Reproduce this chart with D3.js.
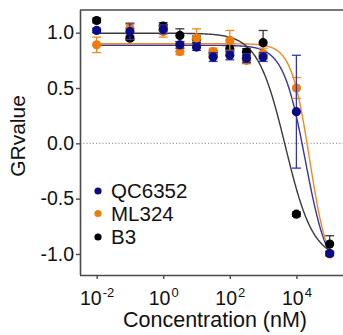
<!DOCTYPE html>
<html>
<head>
<meta charset="utf-8">
<script src="https://cdn.jsdelivr.net/npm/d3@7"></script>
<style>
  html, body { margin: 0; padding: 0; background: #fff; }
  svg { display: block; font-family: "Liberation Sans", Arial, sans-serif; }
</style>
</head>
<body>
<svg id="chart" width="343" height="335"></svg>
<script>
// Concentrations (nM) tested for every compound
const concentrations = [0.01, 0.1, 1, 3.16, 10, 31.6, 100, 316, 1000, 10000, 100000];

// Series names and colours
const seriesNames = ["QC6352", "ML324", "B3"];
const pointColors = ["#0b0b86", "#ee7b0e", "#000000"];
const curveColors = ["#3535a8", "#f08a20", "#3a3a3a"];

// Mean GR values
const qc6352Mean = [1.02, 1.01, 1.03, 0.89, 0.87, 0.78, 0.795, 0.77, 0.78, 0.286, -0.995];
const ml324Mean  = [0.89, 1.04, 1.01, 0.83, 0.95, 0.83, 0.93, 0.75, 0.81, 0.50, -1.0];
const b3Mean     = [1.11, 0.95, 1.06, 0.975, 0.94, 0.81, 0.855, 0.825, 0.91, -0.64, -0.91];

// Error (± SD) of the GR values
const qc6352Err = [0.02, 0.07, 0.04, 0.03, 0.03, 0.04, 0.04, 0.04, 0.04, 0.51, 0.02];
const ml324Err  = [0.07, 0.05, 0.05, 0.03, 0.085, 0.03, 0.09, 0.03, 0.05, 0.095, 0.02];
const b3Err     = [0.02, 0.02, 0.03, 0.06, 0.03, 0.03, 0.03, 0.03, 0.11, 0.02, 0.075];

// Four-parameter logistic fit for each compound
const fitTop      = [0.886, 0.90, 0.995];
const fitBottom   = [-1.2, -1.2, -1.05];
const fitLogEC50  = [4.27, 4.40, 3.67];
const fitHill     = [1.3, 1.56, 1.04];

// Axis ticks
const yTicks = [-1.0, -0.5, 0.0, 0.5, 1.0];
const xTickExponents = [-2, 0, 2, 4];

const means = [qc6352Mean, ml324Mean, b3Mean];
const errs = [qc6352Err, ml324Err, b3Err];

const svg = d3.select("#chart");
const plotLeft = 80, plotRight = 343, plotTop = 10, plotBottom = 275;

const x = d3.scaleLog().domain([Math.pow(10, -2.5), Math.pow(10, 5.4)]).range([plotLeft, plotRight]);
const y = d3.scaleLinear().domain([-1.19, 1.205]).range([plotBottom, plotTop]);

const axisColor = "#4a4a4a";

// Zero reference line
svg.append("line")
  .attr("x1", plotLeft).attr("x2", plotRight)
  .attr("y1", y(0)).attr("y2", y(0))
  .attr("stroke", "#8a8a8a").attr("stroke-width", 1)
  .attr("stroke-dasharray", "1.2,2");

// Top border of the plot frame
svg.append("line")
  .attr("x1", plotLeft).attr("x2", plotRight)
  .attr("y1", plotTop).attr("y2", plotTop)
  .attr("stroke", axisColor).attr("stroke-width", 1.6);

// Y axis
const yAxis = svg.append("g")
  .attr("transform", `translate(${plotLeft},0)`)
  .call(d3.axisLeft(y).tickValues(yTicks).tickSize(4).tickSizeOuter(0)
    .tickFormat(d => d3.format(".1f")(d).replace("\u2212", "-")));
yAxis.select(".domain").attr("stroke", axisColor).attr("stroke-width", 1.6)
  .attr("d", `M0.5,${plotTop}V${plotBottom}`);
yAxis.selectAll(".tick line").attr("stroke", axisColor).attr("stroke-width", 1.4);
yAxis.selectAll(".tick text")
  .attr("font-size", 19.5).attr("fill", "#111").attr("x", -6)
  .attr("font-family", "Liberation Sans, Arial, sans-serif");

// X axis (log scale, powers of ten)
const xAxis = svg.append("g")
  .attr("transform", `translate(0,${plotBottom})`)
  .call(d3.axisBottom(x).tickValues(xTickExponents.map(e => Math.pow(10, e)))
    .tickSize(4).tickSizeOuter(0).tickFormat(() => ""));
xAxis.select(".domain").attr("stroke", axisColor).attr("stroke-width", 1.6)
  .attr("d", `M${plotLeft},0.5H${plotRight}`);
xAxis.selectAll(".tick line").attr("stroke", axisColor).attr("stroke-width", 1.4);
xAxis.selectAll(".tick text")
  .attr("font-family", "Liberation Sans, Arial, sans-serif")
  .attr("fill", "#111").attr("y", 30).attr("dy", null)
  .each(function(d) {
    const t = d3.select(this);
    const e = Math.round(Math.log10(d));
    t.append("tspan").attr("font-size", 19.5).text("10");
    t.append("tspan").attr("font-size", 13).attr("dy", -8).attr("dx", 1)
      .text(e < 0 ? "-" + Math.abs(e) : String(e));
  });

// Axis titles
svg.append("text")
  .attr("x", 215).attr("y", 327)
  .attr("text-anchor", "middle").attr("font-size", 21.5).attr("fill", "#111")
  .text("Concentration (nM)");
svg.append("text")
  .attr("transform", `translate(25,136) rotate(-90)`)
  .attr("text-anchor", "middle").attr("font-size", 21).attr("fill", "#111")
  .text("GRvalue");

// Fitted curves
const logGrid = d3.range(-2, 5.0001, 0.02);
const line = d3.line().x(d => x(Math.pow(10, d[0]))).y(d => y(d[1]));
seriesNames.forEach((name, i) => {
  const pts = logGrid.map(lc => [lc,
    fitBottom[i] + (fitTop[i] - fitBottom[i]) /
      (1 + Math.pow(10, fitHill[i] * (lc - fitLogEC50[i])))]);
  svg.append("path").datum(pts)
    .attr("d", line).attr("fill", "none")
    .attr("stroke", curveColors[i]).attr("stroke-width", 1.4);
});

// Error bars and points, drawn B3 first, then ML324, then QC6352 on top
[2, 1, 0].forEach(i => {
  const g = svg.append("g");
  concentrations.forEach((c, k) => {
    const m = means[i][k], e = errs[i][k];
    const cx = x(c);
    g.append("line").attr("x1", cx).attr("x2", cx)
      .attr("y1", y(m - e)).attr("y2", y(m + e))
      .attr("stroke", curveColors[i]).attr("stroke-width", 1.3);
    [m - e, m + e].forEach(v => {
      g.append("line").attr("x1", cx - 4.5).attr("x2", cx + 4.5)
        .attr("y1", y(v)).attr("y2", y(v))
        .attr("stroke", curveColors[i]).attr("stroke-width", 1.3);
    });
    g.append("circle").attr("cx", cx).attr("cy", y(m)).attr("r", 4.6)
      .attr("fill", pointColors[i]);
  });
});

// Legend
const legendRows = [191, 213.5, 237];
seriesNames.forEach((name, i) => {
  svg.append("circle").attr("cx", 98).attr("cy", legendRows[i]).attr("r", 3.6)
    .attr("fill", pointColors[i]);
  svg.append("text").attr("x", 111).attr("y", legendRows[i]).attr("dy", "0.36em")
    .attr("font-size", 20.5).attr("fill", "#111").text(name);
});
</script>
</body>
</html>
